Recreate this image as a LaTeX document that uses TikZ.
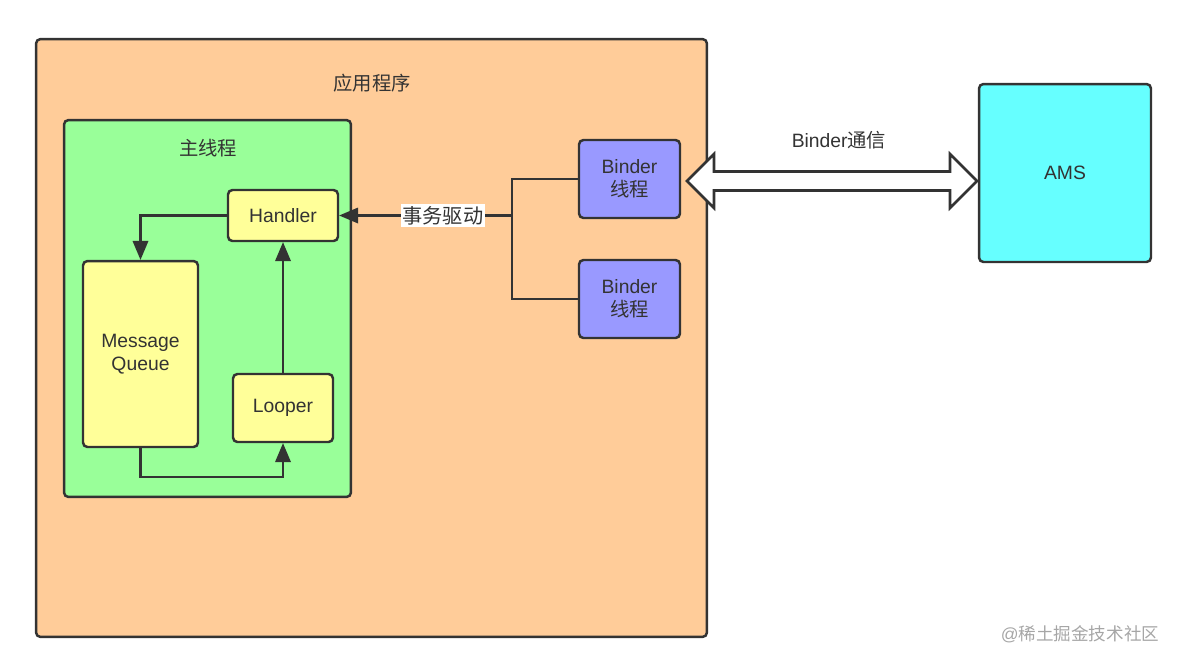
\documentclass[tikz,border=0pt]{standalone}
\usepackage{fontspec}
\setmainfont{Liberation Sans}
\newfontfamily\cjk{Noto Sans CJK SC}
\usetikzlibrary{arrows}
\definecolor{ink}{HTML}{333333}
\definecolor{peach}{HTML}{FFCC99}
\definecolor{mint}{HTML}{99FF99}
\definecolor{lemon}{HTML}{FFFF99}
\definecolor{lilac}{HTML}{9999FF}
\definecolor{aqua}{HTML}{66FFFF}
\tikzset{box/.style={rectangle,draw=ink,line width=1.4pt,rounded corners=2.5pt,
inner sep=0pt, text=ink, align=center, font=\fontsize{11}{13}\selectfont},
app/.style={box,fill=peach},
thread/.style={box,fill=mint},
yel/.style={box,fill=lemon},
binder/.style={box,fill=lilac},
ams/.style={box,fill=aqua},
lbl/.style={text=ink, font=\fontsize{11}{13}\selectfont},
link/.style={draw=ink, line width=1.5pt},
>={triangle 45}}

\begin{document}
\begin{tikzpicture}[x=0.02cm,y=-0.02cm]
  \useasboundingbox (0,0) rectangle (1180,664);
  \node (app) [app, minimum width=13.42cm, minimum height=11.96cm] at (371.5,338) {};
  \node (appl) [lbl] at (372,83) {\cjk 应用程序};
  \node (main) [thread, minimum width=5.74cm, minimum height=7.54cm] at (207.5,308.5) {};
  \node (mainl) [lbl] at (208,148) {\cjk 主线程};
  \node (hd) [yel, minimum width=2.2cm, minimum height=1.02cm] at (283,215.5) {Handler};
  \node (mq) [yel, minimum width=2.3cm, minimum height=3.72cm] at (140.5,354) {Message\\Queue};
  \node (lp) [yel, minimum width=2cm, minimum height=1.36cm] at (283,408) {Looper};
  \node (b1) [binder, minimum width=2.02cm, minimum height=1.56cm] at (629.5,179) {Binder\\{\cjk 线程}};
  \node (b2) [binder, minimum width=2.02cm, minimum height=1.56cm] at (629.5,299) {Binder\\{\cjk 线程}};
  \node (ams) [ams, minimum width=3.44cm, minimum height=3.56cm] at (1065,173) {AMS};
  \coordinate (j) at (512,215.5);
  % binder threads feed the handler
  \draw [link] (b1.west) -| (j) |- (b2.west);
  \draw [link,->] (j) -- node [lbl, pos=0.4, fill=white, inner sep=1pt,
    font=\fontsize{11.5}{13}\selectfont] {\cjk 事务驱动} (hd.east);
  % message loop
  \draw [link,->] (hd.west) -| (mq.north);
  \draw [link,->] (mq.south) |- (283,477) -- (lp.south);
  \draw [link,->] (lp.north) -- (hd.south);
  % binder ipc
  \draw [link, fill=white] (687,181) -- (714,154) -- (714,171.5) -- (950,171.5) -- (950,154)
    -- (977,181) -- (950,208) -- (950,190.5) -- (714,190.5) -- (714,208) -- cycle;
  \node (ipc) [lbl] at (839,140) {Binder{\cjk 通信}};
  \node (mark) [text=black!35, font=\fontsize{10}{12}\selectfont] at (1080,634) {@{\cjk 稀土掘金技术社区}};
\end{tikzpicture}
\end{document}
